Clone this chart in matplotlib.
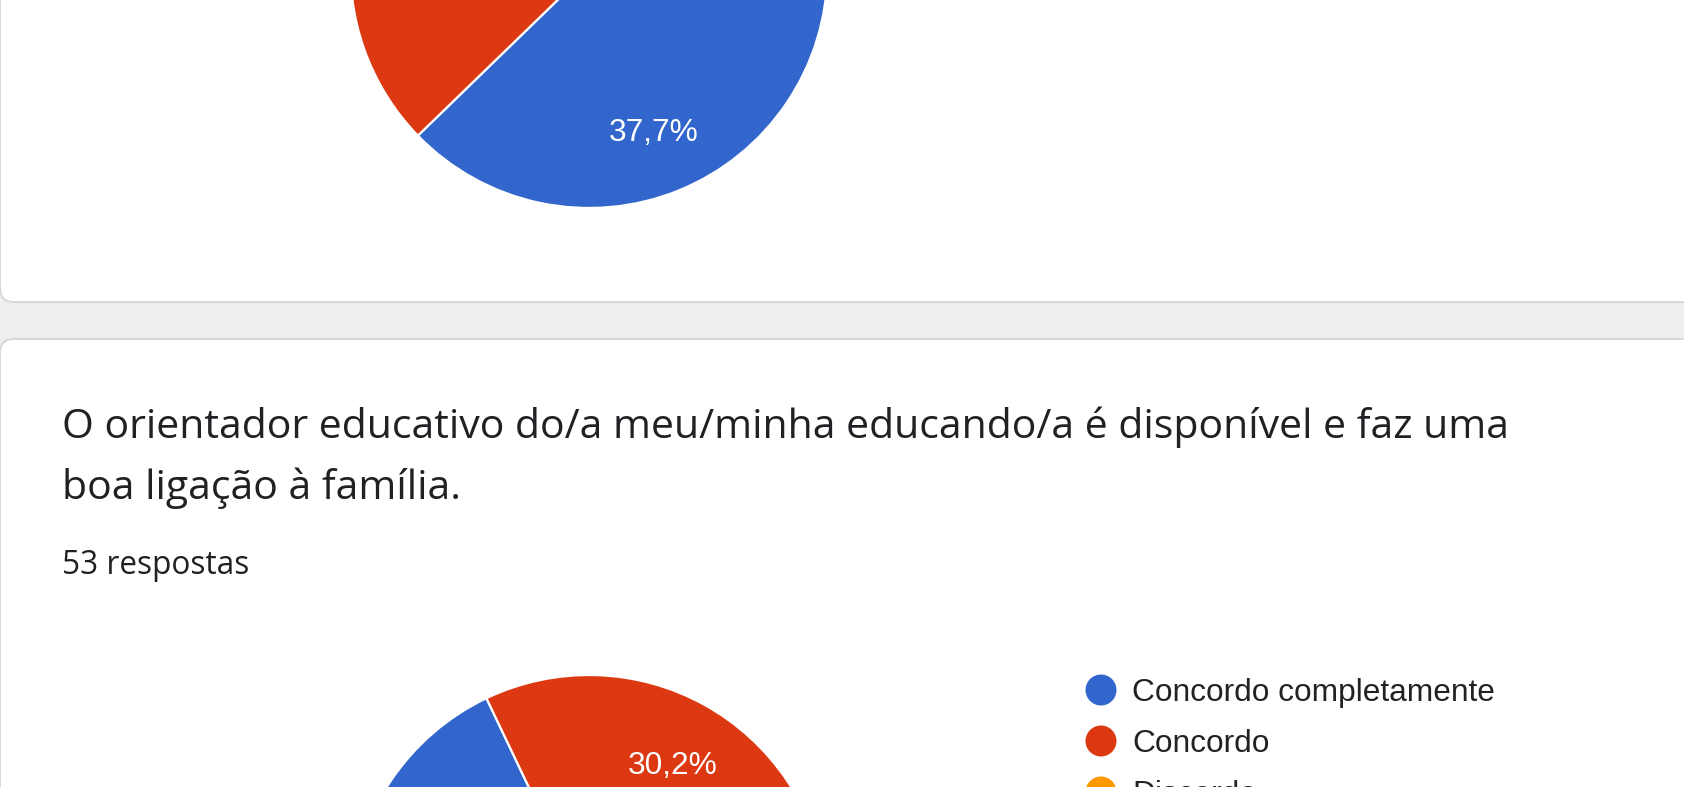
import matplotlib
matplotlib.use("Agg")
import matplotlib.pyplot as plt
from matplotlib.patches import FancyBboxPatch, Circle

# data (53 answers per question)
options = ["Concordo completamente", "Concordo", "Discordo", "Discordo completamente"]
colors = ["#3366cc", "#dc3912", "#ff9900", "#109618"]
counts_prev = [20, 29, 3, 1]      # previous question, only the lower part is visible
counts_q = [36, 16, 1, 0]         # "O orientador educativo..."

title_lines = ["O orientador educativo do/a meu/minha educando/a é disponível e faz uma",
               "boa ligação à família."]
n_answers = "53 respostas"

W, H = 1684, 787
fig = plt.figure(figsize=(W / 100, H / 100), dpi=100)
fig.patch.set_facecolor("#eeeeee")

# background axes in pixel coordinates
bg = fig.add_axes([0, 0, 1, 1])
bg.set_xlim(0, W)
bg.set_ylim(H, 0)
bg.axis("off")
bg.set_facecolor("none")

# white cards with rounded corners
for y0, y1 in [(-200, 302), (339, 1100)]:
    card = FancyBboxPatch((0, y0), W + 200, y1 - y0,
                          boxstyle="round,pad=0,rounding_size=14",
                          facecolor="white", edgecolor="#d6d6da", linewidth=1.3)
    bg.add_patch(card)

# question text
bg.text(62, 438, title_lines[0], fontsize=29.5, family="Open Sans",
        color="#202124", va="baseline", ha="left")
bg.text(62, 499, title_lines[1], fontsize=29.5, family="Open Sans",
        color="#202124", va="baseline", ha="left")
bg.text(62, 574, n_answers, fontsize=22.8, family="Open Sans",
        color="#202124", va="baseline", ha="left")

# legend of the second chart
for i, lab in enumerate(options):
    yc = 690 + i * 51
    bg.add_patch(Circle((1101, yc), 15.5, facecolor=colors[i], edgecolor="none"))
    bg.text(1132, yc + 10.7, lab, fontsize=22.8, family="Liberation Sans",
            color="#222222", va="baseline", ha="left")

R = 238.5


def draw_pie(cx, cy, counts):
    left = (cx - R) / W
    bottom = 1 - (cy + R) / H
    ax = fig.add_axes([left, bottom, 2 * R / W, 2 * R / H])

    def fmt(p):
        if p < 5:
            return ""
        return f"{p:.1f}".replace(".", ",") + "%"

    wedges, texts, autotexts = ax.pie(
        counts, colors=colors, startangle=0, counterclock=False,
        radius=1, autopct=fmt, pctdistance=0.725,
        wedgeprops=dict(edgecolor="white", linewidth=1.6),
        textprops=dict(color="white", fontsize=22.8, family="Liberation Sans"))
    for t in autotexts:
        t.set_va("center_baseline")
        t.set_ha("center")
    ax.set_xlim(-1, 1)
    ax.set_ylim(-1, 1)
    ax.set_aspect("auto")
    ax.axis("off")
    return ax


draw_pie(589, -30.5, counts_prev)
draw_pie(589, 913.5, counts_q)

fig.savefig("out.png", dpi=100, facecolor=fig.get_facecolor())
